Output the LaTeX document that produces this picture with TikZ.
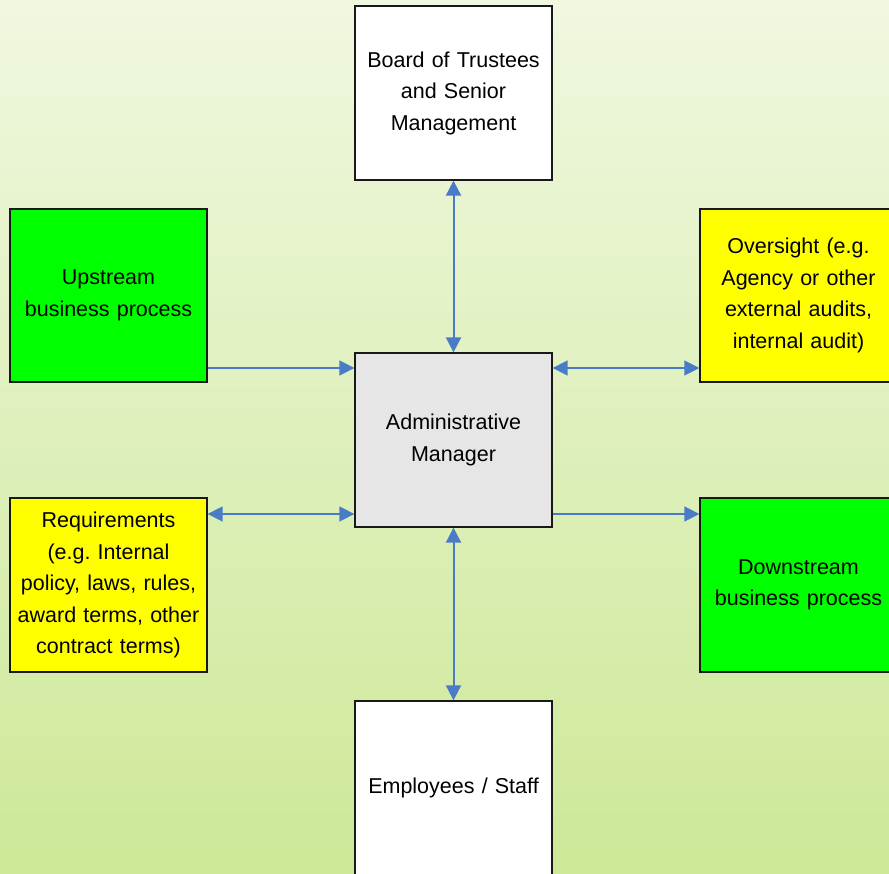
\documentclass[tikz,border=0pt]{standalone}
\usepackage{fontspec}
\setmainfont{Liberation Sans}
\usetikzlibrary{arrows.meta}
\definecolor{arrowblue}{HTML}{4A7BC6}
\definecolor{bgtop}{HTML}{F0F8E0}
\definecolor{bgbot}{HTML}{CDE897}
\definecolor{boxgray}{HTML}{E6E6E6}
\definecolor{boxyellow}{HTML}{FFFF00}
\definecolor{boxgreen}{HTML}{00FF00}
\frenchspacing
\tikzset{
  box/.style={draw=black!90, line width=1.3pt, minimum width=197pt, minimum height=174pt,
    align=center, text width=190pt, inner sep=0pt,
    font=\fontsize{21.5pt}{31.5pt}\selectfont},
  conn/.style={draw=arrowblue, line width=1.5pt},
  vconn/.style={draw=arrowblue, line width=2pt},
  tip/.tip={Triangle[length=15pt,width=15pt]}
}
\begin{document}
\begin{tikzpicture}[x=1pt,y=-1pt]
\useasboundingbox (0,0) rectangle (889,874);
\shade[top color=bgtop, bottom color=bgbot] (0,0) rectangle (889,874);
\node[box, fill=white] (top) at (453.5,93) {Board of Trustees\\and Senior\\Management};
\node[box, fill=boxgray] (cen) at (453.5,440) {Administrative\\Manager};
\node[box, fill=white] (bot) at (453.5,788) {Employees / Staff};
\node[box, fill=boxgreen, minimum height=173pt] (up) at (108.5,295.5) {Upstream\\business process};
\node[box, fill=boxyellow, minimum height=173pt] (over) at (798.5,295.5) {Oversight (e.g.\\Agency or other\\external audits,\\internal audit)};
\node[box, fill=boxyellow] (req) at (108.5,585) {Requirements\\(e.g. Internal\\policy, laws, rules,\\award terms, other\\contract terms)};
\node[box, fill=boxgreen] (down) at (798.5,585) {Downstream\\business process};
\coordinate (a1) at ([yshift=-72.5pt]up.east);
\coordinate (a2) at ([yshift=-72.5pt]over.west);
\coordinate (b1) at ([yshift=71pt]req.east);
\coordinate (b2) at ([yshift=71pt]down.west);
\draw[conn, -{tip}] (a1) -- (a1 -| cen.west);
\draw[conn, {tip}-{tip}] (a2 -| cen.east) -- (a2);
\draw[conn, {tip}-{tip}] (b1) -- (b1 -| cen.west);
\draw[conn, -{tip}] (b2 -| cen.east) -- (b2);
\draw[vconn, {tip}-{tip}] (top.south) -- (cen.north);
\draw[vconn, {tip}-{tip}] (cen.south) -- (bot.north);
\end{tikzpicture}
\end{document}
